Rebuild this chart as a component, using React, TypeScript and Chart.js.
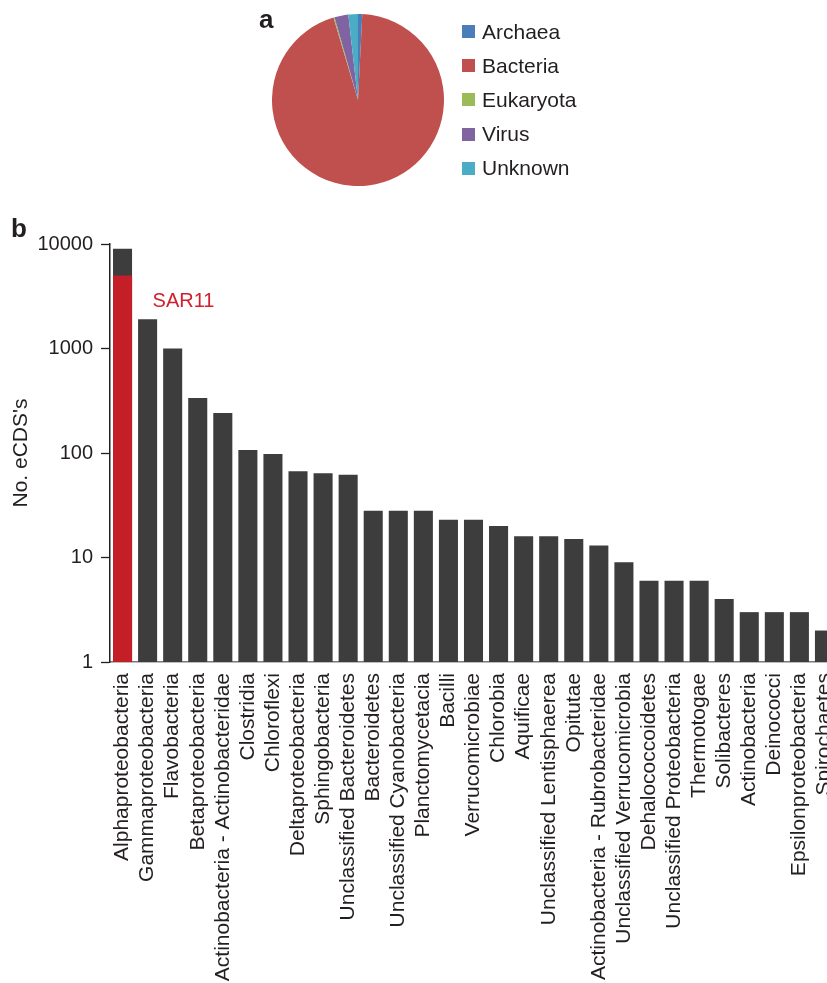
import React, { useEffect, useRef } from "react";
import { Chart, registerables } from "chart.js";

Chart.register(...registerables);

const FONT = "'Liberation Sans', Arial, Helvetica, sans-serif";
const TEXT = "#231f20";

// Panel a: share of eCDS's by domain (%)
const domains = ["Archaea", "Bacteria", "Eukaryota", "Virus", "Unknown"];
const domainShares = [0.8, 94.6, 0.2, 2.6, 1.8];
const domainColors = ["#4a7ebb", "#c0504d", "#9bbb59", "#8064a2", "#4bacc6"];

// Panel b: eCDS's per bacterial class
const classes = [
  "Alphaproteobacteria",
  "Gammaproteobacteria",
  "Flavobacteria",
  "Betaproteobacteria",
  "Actinobacteria - Actinobacteridae",
  "Clostridia",
  "Chloroflexi",
  "Deltaproteobacteria",
  "Sphingobacteria",
  "Unclassified Bacteroidetes",
  "Bacteroidetes",
  "Unclassified Cyanobacteria",
  "Planctomycetacia",
  "Bacilli",
  "Verrucomicrobiae",
  "Chlorobia",
  "Aquificae",
  "Unclassified Lentisphaerea",
  "Opitutae",
  "Actinobacteria - Rubrobacteridae",
  "Unclassified Verrucomicrobia",
  "Dehalococcoidetes",
  "Unclassified Proteobacteria",
  "Thermotogae",
  "Solibacteres",
  "Actinobacteria",
  "Deinococci",
  "Epsilonproteobacteria",
  "Spirochaetes",
];
const eCDSCounts = [
  9000, 1900, 1000, 336, 241, 107, 98, 67, 64, 62, 28, 28, 28, 23, 23, 20, 16,
  16, 15, 13, 9, 6, 6, 6, 4, 3, 3, 3, 2,
];
// SAR11 portion of the Alphaproteobacteria bar
const sar11Counts: (number | null)[] = [5000, ...Array(classes.length - 1).fill(null)];
const yTicks = [1, 10, 100, 1000, 10000];

const sar11Label = {
  id: "sar11Label",
  afterDatasetsDraw(chart: any) {
    const { ctx, scales } = chart;
    const x = scales.x.getPixelForValue(1) + 5;
    const y = scales.y.getPixelForValue(sar11Counts[0] as number) + 32;
    ctx.save();
    ctx.font = `20px ${FONT}`;
    ctx.fillStyle = "#d3202f";
    ctx.textAlign = "left";
    ctx.textBaseline = "alphabetic";
    ctx.fillText("SAR11", x, y);
    ctx.restore();
  },
};

export default function App() {
  const pieRef = useRef<HTMLCanvasElement>(null);
  const barRef = useRef<HTMLCanvasElement>(null);

  useEffect(() => {
    const pie = new Chart(pieRef.current as HTMLCanvasElement, {
      type: "pie",
      data: {
        labels: domains,
        datasets: [
          {
            data: domainShares,
            backgroundColor: domainColors,
            borderWidth: 0,
          },
        ],
      },
      options: {
        animation: false,
        responsive: false,
        devicePixelRatio: 1,
        layout: { padding: 0 },
        plugins: { legend: { display: false }, tooltip: { enabled: false } },
      },
    });

    const bar = new Chart(barRef.current as HTMLCanvasElement, {
      type: "bar",
      data: {
        labels: classes,
        datasets: [
          {
            label: "SAR11",
            data: sar11Counts,
            backgroundColor: "#c41e26",
            grouped: false,
            barPercentage: 0.76,
            categoryPercentage: 1,
          },
          {
            label: "eCDS's",
            data: eCDSCounts,
            backgroundColor: "#3d3d3d",
            grouped: false,
            barPercentage: 0.76,
            categoryPercentage: 1,
          },
        ],
      },
      options: {
        animation: false,
        responsive: false,
        devicePixelRatio: 1,
        layout: { padding: { top: 244, left: 0, right: 0, bottom: 0 } },
        plugins: { legend: { display: false }, tooltip: { enabled: false } },
        scales: {
          x: {
            type: "category",
            offset: true,
            grid: { display: false, drawTicks: false },
            border: { display: true, color: "#7a7a7a", width: 1.5 },
            ticks: {
              autoSkip: false,
              minRotation: 90,
              maxRotation: 90,
              padding: 11,
              color: TEXT,
              font: { family: FONT, size: 21 },
            },
            afterFit: (s: any) => {
              s.height = 983 - 662;
              s.paddingLeft = 0;
              s.paddingRight = 0;
            },
          },
          y: {
            type: "logarithmic",
            min: 1,
            max: 10000,
            afterBuildTicks: (s: any) => {
              s.ticks = yTicks.map((v) => ({ value: v }));
            },
            ticks: {
              padding: 8,
              color: TEXT,
              font: { family: FONT, size: 20 },
              callback: (v: any) => String(v),
            },
            grid: {
              display: true,
              drawOnChartArea: false,
              drawTicks: true,
              tickLength: 9,
              tickColor: TEXT,
              tickWidth: 1.3,
            },
            border: { display: true, color: TEXT, width: 1.5 },
            title: {
              display: true,
              text: "No. eCDS's",
              color: TEXT,
              font: { family: FONT, size: 21 },
              padding: { top: 9, bottom: 0 },
            },
            afterFit: (s: any) => {
              s.width = 110;
            },
          },
        },
      },
      plugins: [sar11Label],
    });

    return () => {
      pie.destroy();
      bar.destroy();
    };
  }, []);

  const panelLetter: React.CSSProperties = {
    position: "absolute",
    fontFamily: FONT,
    fontWeight: "bold",
    fontSize: 26,
    lineHeight: "26px",
    color: TEXT,
  };

  return (
    <div
      style={{
        position: "fixed",
        left: 0,
        top: 0,
        width: 827,
        height: 983,
        overflow: "hidden",
        background: "#fff",
      }}
    >
      <canvas
        ref={barRef}
        width={837}
        height={983}
        style={{ position: "absolute", left: 0, top: 0, display: "block" }}
      />
      <canvas
        ref={pieRef}
        width={172}
        height={172}
        style={{ position: "absolute", left: 272, top: 14, display: "block" }}
      />
      <div style={{ ...panelLetter, left: 259, top: 6 }}>a</div>
      <div style={{ ...panelLetter, left: 11, top: 215 }}>b</div>
      {domains.map((d, i) => (
        <div key={d}>
          <div
            style={{
              position: "absolute",
              left: 462,
              top: 25 + i * 34.2,
              width: 13,
              height: 13,
              background: domainColors[i],
            }}
          />
          <div
            style={{
              position: "absolute",
              left: 482,
              top: 20.5 + i * 34.2,
              fontFamily: FONT,
              fontSize: 21,
              lineHeight: "21px",
              color: TEXT,
              whiteSpace: "nowrap",
            }}
          >
            {d}
          </div>
        </div>
      ))}
    </div>
  );
}
